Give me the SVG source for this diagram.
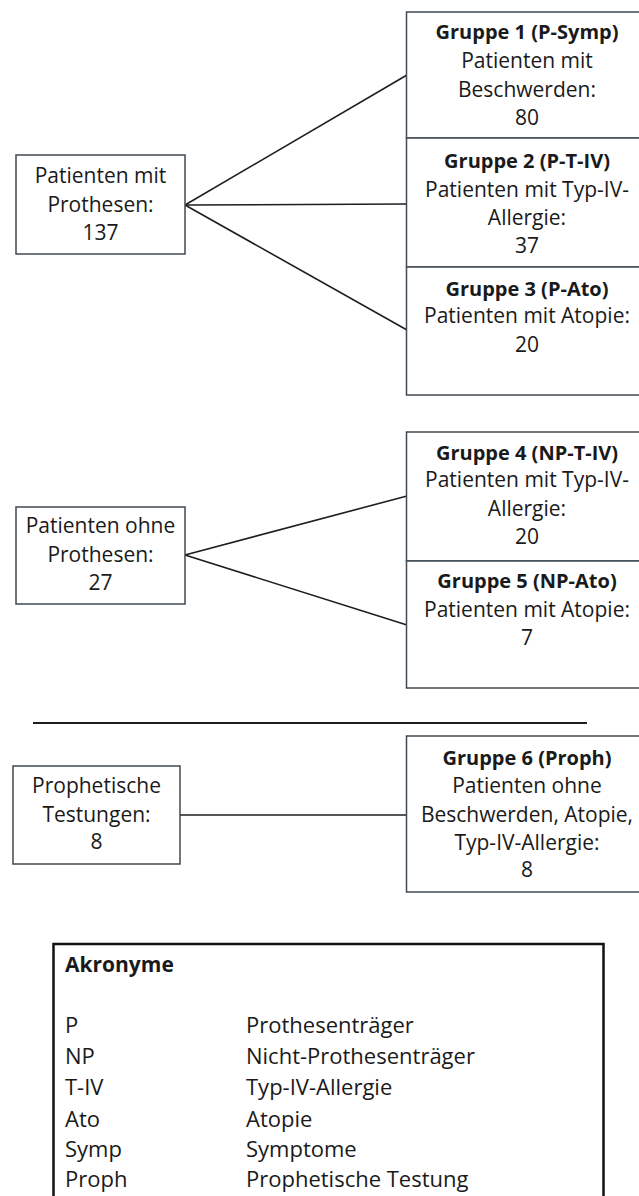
<svg xmlns="http://www.w3.org/2000/svg" width="639" height="1196" viewBox="0 0 639 1196">
<style>
text{font-family:"Open Sans","Noto Sans","Liberation Sans",sans-serif;font-size:21px;fill:#1a1a1a;text-anchor:middle}
.b{font-weight:bold;font-size:20px}
.l{text-anchor:start}
.lg{font-size:22px}
.hd{font-size:21px}
.box{fill:#fff;stroke:#3f4a52;stroke-width:1.5}
.conn line{stroke:#1e1e1e;stroke-width:1.6}
</style>
<rect width="639" height="1196" fill="#fff"/>
<g id="connectors" class="conn">
<line x1="185" y1="205" x2="407" y2="75"/>
<line x1="185" y1="205" x2="407" y2="204"/>
<line x1="185" y1="205" x2="407" y2="330"/>
<line x1="185" y1="555" x2="407" y2="496"/>
<line x1="185" y1="555" x2="407" y2="625"/>
<line x1="180" y1="815" x2="407" y2="815"/>
</g>
<line id="divider" x1="33" y1="723" x2="587" y2="723" stroke="#1e1e1e" stroke-width="1.8"/>
<g id="n-prothesen">
<rect class="box" x="16" y="155" width="169" height="99"/>
<text x="100.5" y="183">Patienten mit</text>
<text x="100.5" y="212">Prothesen:</text>
<text x="100.5" y="240">137</text>
</g>
<g id="n-gruppe1">
<rect class="box" x="406.5" y="12" width="242" height="126"/>
<text class="b" x="527" y="39">Gruppe 1 (P-Symp)</text>
<text x="527" y="68">Patienten mit</text>
<text x="527" y="97">Beschwerden:</text>
<text x="527" y="125">80</text>
</g>
<g id="n-gruppe2">
<rect class="box" x="406.5" y="138" width="242" height="129"/>
<text class="b" x="527" y="168">Gruppe 2 (P-T-IV)</text>
<text x="527" y="197">Patienten mit Typ-IV-</text>
<text x="527" y="225">Allergie:</text>
<text x="527" y="253">37</text>
</g>
<g id="n-gruppe3">
<rect class="box" x="406.5" y="267" width="242" height="128"/>
<text class="b" x="527" y="296">Gruppe 3 (P-Ato)</text>
<text x="527" y="323">Patienten mit Atopie:</text>
<text x="527" y="352">20</text>
</g>
<g id="n-ohne">
<rect class="box" x="16" y="507" width="169" height="97"/>
<text x="100.5" y="533">Patienten ohne</text>
<text x="100.5" y="562">Prothesen:</text>
<text x="100.5" y="590">27</text>
</g>
<g id="n-gruppe4">
<rect class="box" x="406.5" y="432" width="242" height="129"/>
<text class="b" x="527" y="460">Gruppe 4 (NP-T-IV)</text>
<text x="527" y="487">Patienten mit Typ-IV-</text>
<text x="527" y="516">Allergie:</text>
<text x="527" y="544">20</text>
</g>
<g id="n-gruppe5">
<rect class="box" x="406.5" y="561" width="242" height="127"/>
<text class="b" x="527" y="588">Gruppe 5 (NP-Ato)</text>
<text x="527" y="617">Patienten mit Atopie:</text>
<text x="527" y="645">7</text>
</g>
<g id="n-prophetisch">
<rect class="box" x="13" y="766" width="167" height="98"/>
<text x="96.5" y="793">Prophetische</text>
<text x="96.5" y="822">Testungen:</text>
<text x="96.5" y="849">8</text>
</g>
<g id="n-gruppe6">
<rect class="box" x="406.5" y="736" width="242" height="156"/>
<text class="b" x="527" y="765">Gruppe 6 (Proph)</text>
<text x="527" y="793">Patienten ohne</text>
<text x="527" y="822">Beschwerden, Atopie,</text>
<text x="527" y="850">Typ-IV-Allergie:</text>
<text x="527" y="877">8</text>
</g>
<g id="legend">
<rect x="53.5" y="944" width="550" height="270" fill="#fff" stroke="#111" stroke-width="2.5"/>
<text class="b l hd" x="65" y="972">Akronyme</text>
<text class="l lg" x="65" y="1033">P</text>
<text class="l lg" x="246" y="1033">Prothesenträger</text>
<text class="l lg" x="65" y="1064">NP</text>
<text class="l lg" x="246" y="1064">Nicht-Prothesenträger</text>
<text class="l lg" x="65" y="1095">T-IV</text>
<text class="l lg" x="246" y="1095">Typ-IV-Allergie</text>
<text class="l lg" x="65" y="1127">Ato</text>
<text class="l lg" x="246" y="1127">Atopie</text>
<text class="l lg" x="65" y="1157">Symp</text>
<text class="l lg" x="246" y="1157">Symptome</text>
<text class="l lg" x="65" y="1187">Proph</text>
<text class="l lg" x="246" y="1187">Prophetische Testung</text>
</g>
</svg>
